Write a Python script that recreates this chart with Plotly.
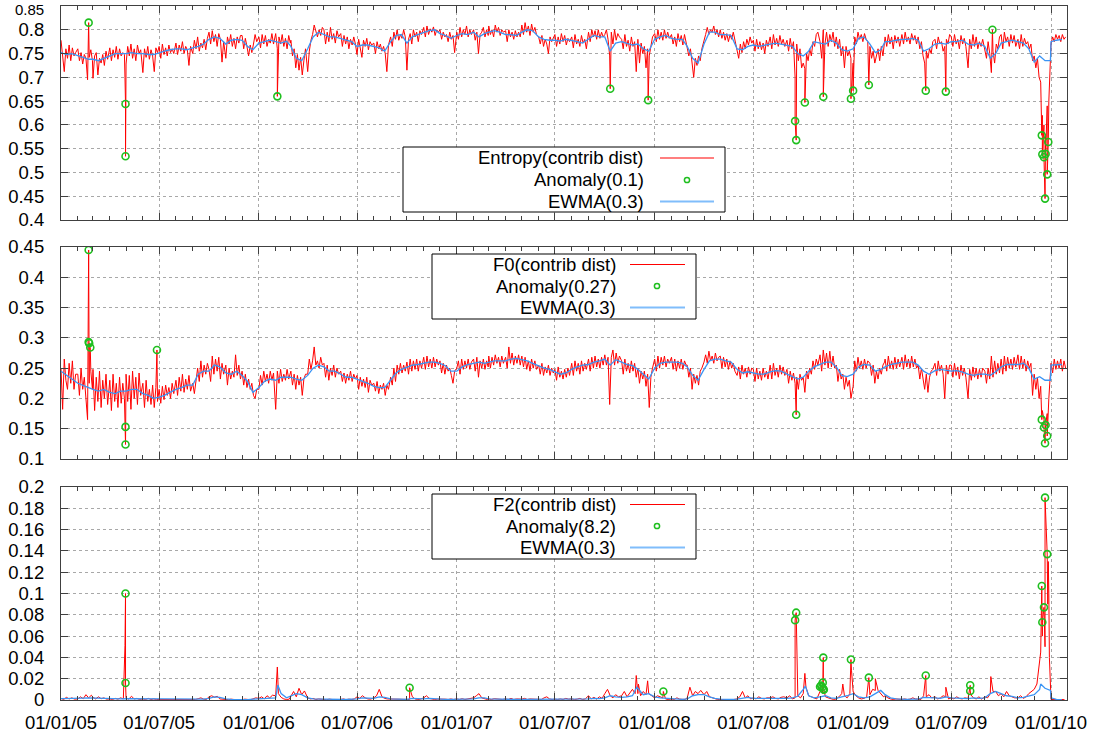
import pandas as pd
import plotly.graph_objects as go

# ---------------- data ----------------
MONTHS = pd.date_range("2005-01-01", "2010-01-01", freq="MS")   # 61 months
RED_OFFS10 = [0, 3, 6, 9, 12, 15, 18, 21, 24, 27]   # day offsets of raw samples (Entropy, F0)
RED_OFFS6 = [0, 5, 10, 15, 20, 25]                  # day offsets of raw samples (F2)
BLUE_OFFS = [0, 10, 20]                             # day offsets of EWMA samples

# Entropy(contrib dist), thousandths, one row per month
ent_red = [
    [778, 745, 712, 760, 740, 768, 735, 762, 745, 752],
    [760, 735, 752, 728, 748, 740, 695, 742, 758, 735],
    [698, 745, 752, 705, 740, 730, 748, 725, 755, 738],
    [762, 735, 758, 742, 765, 738, 760, 745, 752, 748],
    [728, 765, 745, 770, 740, 760, 735, 768, 750, 758],
    [710, 760, 742, 765, 738, 758, 745, 712, 762, 752],
    [765, 740, 770, 748, 762, 745, 768, 752, 760, 750],
    [772, 748, 768, 755, 775, 750, 765, 758, 725, 765],
    [750, 778, 760, 785, 755, 772, 762, 780, 758, 782],
    [795, 770, 798, 775, 790, 765, 792, 780, 732, 775],
    [740, 785, 770, 790, 765, 782, 760, 785, 772, 788],
    [788, 760, 782, 765, 745, 768, 752, 770, 790, 775],
    [785, 762, 790, 770, 788, 765, 780, 772, 792, 770],
    [792, 760, 785, 770, 790, 765, 782, 760, 788, 772],
    [778, 745, 760, 720, 748, 715, 742, 705, 735, 760],
    [712, 755, 778, 790, 810, 795, 785, 800, 788, 805],
    [800, 770, 795, 775, 805, 780, 792, 772, 798, 785],
    [792, 765, 788, 770, 785, 760, 780, 768, 785, 770],
    [748, 780, 760, 742, 778, 765, 782, 758, 775, 768],
    [772, 750, 775, 760, 770, 755, 765, 750, 712, 768],
    [785, 765, 795, 780, 800, 778, 790, 782, 800, 785],
    [715, 780, 792, 770, 800, 785, 795, 775, 798, 790],
    [805, 785, 808, 790, 802, 795, 806, 788, 800, 795],
    [800, 780, 795, 785, 790, 775, 795, 780, 788, 752],
    [795, 780, 805, 785, 800, 790, 808, 785, 800, 790],
    [800, 778, 795, 750, 790, 795, 805, 785, 800, 788],
    [808, 790, 800, 785, 810, 795, 805, 788, 800, 795],
    [798, 775, 800, 785, 795, 780, 798, 785, 795, 785],
    [810, 790, 815, 795, 808, 788, 812, 795, 805, 790],
    [785, 770, 788, 765, 780, 770, 750, 785, 775, 782],
    [790, 765, 785, 770, 792, 775, 788, 768, 782, 775],
    [785, 762, 790, 770, 780, 765, 788, 772, 780, 760],
    [795, 775, 800, 785, 798, 780, 800, 782, 795, 785],
    [790, 800, 780, 745, 795, 770, 800, 778, 792, 785],
    [780, 760, 790, 765, 778, 755, 785, 765, 775, 712],
    [780, 730, 772, 750, 765, 720, 760, 745, 770, 785],
    [792, 775, 800, 780, 795, 778, 800, 782, 795, 782],
    [790, 770, 785, 765, 792, 775, 788, 768, 790, 775],
    [765, 745, 760, 735, 700, 740, 725, 745, 735, 760],
    [775, 790, 805, 790, 800, 795, 808, 790, 800, 785],
    [800, 782, 795, 778, 792, 775, 790, 780, 795, 780],
    [760, 740, 770, 752, 775, 760, 780, 768, 785, 772],
    [778, 755, 780, 760, 775, 758, 772, 750, 778, 765],
    [785, 760, 790, 768, 782, 765, 788, 770, 780, 765],
    [778, 755, 782, 760, 775, 700, 770, 735, 760, 720],
    [730, 718, 750, 735, 760, 745, 775, 765, 790, 795],
    [775, 740, 800, 770, 795, 765, 790, 775, 795, 765],
    [785, 760, 780, 745, 765, 720, 765, 745, 755, 740],
    [730, 785, 770, 795, 780, 790, 775, 792, 780, 775],
    [765, 740, 755, 730, 745, 760, 735, 765, 745, 780],
    [785, 765, 790, 770, 785, 760, 788, 772, 785, 765],
    [790, 770, 795, 775, 785, 770, 792, 778, 788, 770],
    [785, 760, 775, 745, 730, 755, 740, 760, 750, 775],
    [780, 760, 785, 770, 775, 755, 765, 780, 770, 790],
    [785, 765, 790, 770, 780, 760, 788, 770, 782, 765],
    [720, 780, 760, 790, 765, 785, 760, 775, 765, 780],
    [760, 740, 775, 750, 710, 755, 730, 770, 760, 785],
    [790, 760, 795, 775, 785, 765, 790, 772, 788, 765],
    [780, 760, 790, 765, 782, 770, 775, 760, 770, 735],
    [745, 720, 740, 700, 690, 620, 600, 580, 640, 650],
    [770, 785, 775, 790, 780, 788, 775, 790, 780, 785],
]
ent_blue = [
    [752, 748, 750], [745, 742, 738], [738, 735, 740], [745, 750, 750], [750, 752, 750], [750, 748, 748],
    [752, 755, 758], [760, 760, 758], [762, 765, 770], [780, 785, 782], [770, 778, 780], [778, 765, 758],
    [772, 775, 778], [775, 772, 776], [765, 740, 735], [760, 785, 795], [790, 785, 785], [782, 778, 775],
    [765, 768, 768], [765, 762, 755], [775, 788, 790], [772, 785, 790], [795, 798, 800], [792, 788, 782],
    [788, 792, 790], [795, 785, 792], [795, 798, 795], [790, 790, 788], [795, 800, 798], [785, 780, 778],
    [778, 776, 780], [778, 775, 772], [780, 788, 785], [785, 755, 772], [775, 772, 768], [770, 760, 755],
    [780, 785, 788], [782, 780, 780], [765, 740, 730], [770, 795, 795], [790, 790, 788], [760, 758, 765],
    [768, 765, 768], [770, 772, 770], [768, 765, 750], [745, 755, 775], [772, 770, 778], [772, 758, 755],
    [760, 782, 785], [770, 752, 758], [775, 775, 778], [780, 780, 782], [778, 755, 760], [770, 772, 770],
    [775, 775, 778], [770, 768, 772], [765, 740, 750], [772, 775, 778], [775, 772, 760], [732, 745, 735],
    [775, 778, 780],
]
ent_blue_extra = [("2009-12-31", 0.735)]
ent_anom = [
    ("2005-02-21", 0.815), ("2005-04-30", 0.644), ("2005-04-30", 0.534), ("2006-02-04", 0.660),
    ("2007-10-11", 0.676), ("2007-12-20", 0.652), ("2008-09-16", 0.608), ("2008-09-18", 0.568),
    ("2008-10-04", 0.647), ("2008-11-07", 0.659), ("2008-12-28", 0.655), ("2009-01-01", 0.672),
    ("2009-01-30", 0.684), ("2009-05-15", 0.672), ("2009-06-21", 0.670), ("2009-09-15", 0.800),
    ("2009-12-15", 0.578), ("2009-12-16", 0.538), ("2009-12-19", 0.532), ("2009-12-21", 0.445),
    ("2009-12-22", 0.539), ("2009-12-25", 0.496), ("2009-12-27", 0.564),
]
ent_red_extra = [("2005-04-29", 0.700)]

# F0(contrib dist), thousandths
f0_red = [
    [250, 182, 265, 230, 215, 258, 225, 262, 215, 240],
    [240, 205, 250, 215, 235, 200, 165, 225, 245, 215],
    [248, 180, 235, 195, 245, 185, 230, 200, 240, 190],
    [230, 180, 240, 195, 225, 185, 235, 192, 225, 200],
    [240, 195, 238, 182, 245, 200, 235, 190, 242, 205],
    [225, 185, 230, 195, 215, 190, 222, 185, 218, 195],
    [215, 192, 220, 198, 222, 205, 218, 200, 225, 208],
    [230, 205, 235, 212, 240, 210, 232, 215, 238, 212],
    [225, 208, 232, 250, 228, 262, 235, 255, 240, 258],
    [248, 228, 270, 240, 265, 245, 268, 232, 258, 240],
    [255, 222, 250, 232, 245, 235, 272, 238, 255, 232],
    [245, 222, 240, 218, 232, 215, 225, 205, 200, 215],
    [215, 238, 222, 245, 228, 240, 225, 245, 230, 242],
    [182, 245, 225, 248, 228, 240, 230, 248, 232, 242],
    [245, 222, 240, 215, 238, 222, 235, 205, 232, 240],
    [240, 265, 248, 262, 285, 255, 262, 250, 268, 255],
    [258, 235, 255, 230, 250, 238, 255, 235, 250, 240],
    [245, 228, 242, 225, 240, 230, 245, 228, 240, 232],
    [238, 215, 235, 220, 232, 218, 235, 210, 230, 222],
    [225, 212, 228, 208, 222, 215, 225, 205, 222, 215],
    [235, 222, 250, 228, 255, 240, 258, 242, 255, 245],
    [260, 240, 265, 245, 262, 248, 265, 245, 262, 250],
    [268, 248, 270, 252, 265, 250, 268, 252, 265, 255],
    [262, 242, 258, 240, 255, 245, 250, 238, 225, 245],
    [250, 262, 240, 265, 248, 262, 250, 265, 248, 260],
    [265, 245, 268, 235, 262, 250, 265, 248, 262, 252],
    [270, 250, 268, 255, 272, 258, 268, 252, 270, 258],
    [268, 250, 285, 258, 275, 255, 270, 258, 272, 255],
    [270, 252, 268, 248, 262, 245, 265, 250, 262, 248],
    [255, 240, 258, 238, 252, 242, 255, 238, 250, 242],
    [248, 230, 252, 235, 245, 232, 248, 235, 250, 238],
    [258, 238, 262, 245, 258, 240, 262, 245, 258, 248],
    [265, 245, 268, 250, 270, 252, 265, 250, 268, 255],
    [272, 255, 268, 190, 268, 280, 255, 275, 258, 270],
    [262, 240, 265, 245, 258, 242, 262, 245, 258, 235],
    [250, 225, 245, 232, 245, 220, 240, 185, 235, 250],
    [265, 245, 270, 250, 268, 255, 270, 252, 265, 258],
    [268, 248, 265, 245, 262, 250, 265, 248, 262, 255],
    [255, 235, 250, 215, 240, 225, 238, 222, 245, 250],
    [260, 272, 258, 278, 262, 270, 258, 275, 262, 268],
    [270, 250, 268, 252, 265, 248, 262, 250, 258, 245],
    [238, 252, 232, 255, 240, 250, 235, 252, 240, 250],
    [248, 228, 250, 232, 245, 230, 250, 235, 245, 232],
    [255, 232, 258, 238, 250, 235, 255, 240, 252, 238],
    [248, 225, 245, 230, 242, 225, 235, 215, 240, 230],
    [235, 210, 245, 232, 250, 240, 262, 248, 265, 255],
    [272, 245, 280, 255, 275, 250, 278, 252, 270, 250],
    [255, 228, 248, 232, 240, 215, 235, 220, 230, 200],
    [220, 262, 245, 268, 250, 262, 248, 265, 250, 262],
    [258, 238, 255, 225, 245, 232, 250, 240, 255, 260],
    [265, 245, 270, 250, 262, 248, 268, 250, 265, 252],
    [268, 248, 272, 252, 265, 250, 270, 252, 265, 250],
    [255, 232, 250, 230, 215, 240, 210, 235, 245, 248],
    [258, 238, 262, 245, 255, 240, 200, 255, 240, 255],
    [255, 235, 258, 238, 252, 232, 255, 238, 250, 235],
    [200, 248, 230, 252, 235, 250, 232, 248, 235, 250],
    [245, 225, 250, 232, 270, 235, 262, 240, 258, 242],
    [265, 240, 270, 245, 268, 250, 265, 248, 268, 252],
    [272, 248, 270, 250, 265, 245, 262, 250, 258, 205],
    [240, 215, 235, 200, 220, 180, 165, 150, 175, 200],
    [258, 242, 265, 248, 262, 250, 265, 245, 262, 250],
]
f0_blue = [
    [245, 238, 232], [225, 222, 218], [215, 212, 215], [210, 208, 212], [212, 215, 215], [208, 205, 200],
    [202, 205, 210], [215, 218, 222], [222, 240, 245], [245, 255, 252], [242, 240, 245], [238, 228, 210],
    [218, 228, 232], [230, 235, 235], [235, 232, 230], [238, 250, 255], [252, 245, 245], [240, 235, 235],
    [232, 228, 225], [220, 218, 218], [230, 242, 248], [252, 255, 256], [258, 260, 260], [258, 254, 245],
    [245, 252, 256], [258, 260, 258], [260, 262, 262], [262, 265, 266], [264, 262, 258], [254, 250, 248],
    [244, 240, 242], [248, 252, 255], [256, 260, 262], [265, 255, 264], [260, 256, 254], [248, 240, 232],
    [250, 258, 260], [260, 260, 258], [252, 238, 230], [248, 262, 265], [265, 262, 260], [248, 242, 244],
    [242, 240, 240], [244, 246, 245], [240, 236, 232], [235, 245, 252], [256, 260, 260], [252, 238, 236],
    [240, 252, 256], [255, 245, 248], [252, 256, 258], [260, 260, 260], [255, 245, 240], [246, 248, 246],
    [245, 246, 244], [240, 238, 240], [240, 238, 244], [252, 256, 256], [256, 258, 250], [232, 236, 230],
    [255, 256, 256],
]
f0_blue_extra = [("2009-12-31", 0.230)]
f0_anom = [
    ("2005-02-21", 0.445), ("2005-02-21", 0.293), ("2005-02-22", 0.291), ("2005-02-24", 0.284),
    ("2005-04-30", 0.153), ("2005-04-30", 0.124), ("2005-06-27", 0.280), ("2008-09-18", 0.173),
    ("2009-12-15", 0.165), ("2009-12-19", 0.152), ("2009-12-21", 0.126), ("2009-12-22", 0.156),
    ("2009-12-25", 0.138),
]
f0_red_extra = []

# F2(contrib dist), units of 1e-4
f2_red = [
    [15, 5, 25, 10, 20, 8], [10, 30, 12, 50, 20, 45], [25, 10, 30, 12, 20, 8], [10, 5, 15, 8, 20, 10],
    [20, 8, 35, 10, 15, 5], [10, 5, 15, 5, 10, 5], [5, 10, 3, 8, 5, 10], [8, 3, 10, 5, 8, 3],
    [10, 5, 12, 20, 8, 5], [30, 40, 25, 35, 10, 5], [5, 3, 8, 5, 3, 5], [3, 8, 5, 3, 10, 20],
    [15, 30, 10, 40, 20, 45], [40, 60, 25, 10, 5, 8], [40, 80, 30, 110, 50, 85], [20, 10, 15, 5, 10, 5],
    [5, 3, 8, 5, 3, 8], [5, 10, 3, 8, 5, 10], [30, 15, 40, 20, 10, 8], [20, 40, 100, 30, 15, 10],
    [10, 5, 8, 5, 10, 5], [10, 5, 30, 10, 5, 8], [20, 40, 15, 10, 5, 8], [10, 5, 8, 5, 10, 5],
    [10, 5, 12, 5, 8, 10], [20, 40, 60, 20, 10, 5], [10, 5, 12, 8, 10, 5], [10, 5, 15, 5, 10, 8],
    [8, 15, 5, 10, 8, 12], [10, 5, 20, 30, 10, 5], [8, 5, 10, 5, 15, 8], [10, 5, 8, 15, 5, 10],
    [40, 10, 25, 8, 30, 15], [60, 100, 40, 20, 50, 30], [40, 80, 30, 60, 100, 60], [60, 40, 80, 50, 60, 40],
    [20, 40, 30, 20, 10, 5], [10, 5, 20, 8, 10, 5], [20, 120, 40, 80, 60, 90], [50, 80, 30, 20, 10, 5],
    [5, 3, 8, 5, 3, 5], [10, 30, 80, 20, 40, 10], [20, 10, 30, 15, 10, 20], [20, 30, 15, 10, 25, 30],
    [20, 40, 10, 20, 40, 20], [60, 120, 40, 30, 20, 10], [80, 60, 30, 20, 10, 5], [10, 30, 60, 40, 20, 60],
    [80, 40, 20, 10, 15, 30], [50, 100, 90, 90, 60, 30], [40, 20, 10, 5, 10, 5], [5, 10, 5, 8, 20, 10],
    [10, 5, 40, 30, 50, 20], [30, 10, 20, 40, 30, 10], [20, 10, 30, 15, 10, 20], [15, 50, 20, 10, 30, 8],
    [30, 20, 60, 80, 80, 40], [60, 30, 80, 40, 30, 20], [20, 40, 15, 30, 60, 80], [100, 150, 400, 600, 500, 900],
    [5, 3, 5, 3, 5, 3],
]
f2_blue = [
    [12, 12, 12], [15, 18, 20], [18, 16, 14], [12, 10, 10], [12, 12, 10], [8, 8, 6],
    [5, 5, 5], [5, 5, 5], [6, 8, 8], [15, 30, 25], [10, 6, 4], [4, 4, 8],
    [10, 15, 20], [20, 60, 20], [40, 60, 50], [20, 10, 8], [5, 5, 5], [5, 5, 5],
    [10, 20, 15], [15, 30, 25], [10, 8, 6], [6, 15, 10], [10, 15, 10], [8, 6, 6],
    [6, 6, 6], [10, 20, 20], [10, 8, 6], [6, 6, 6], [6, 6, 8], [8, 10, 10],
    [6, 6, 8], [6, 8, 6], [10, 15, 12], [20, 40, 30], [25, 30, 40], [110, 50, 60],
    [30, 20, 15], [10, 8, 6], [10, 40, 50], [50, 30, 15], [8, 5, 5], [8, 20, 25],
    [15, 15, 12], [12, 15, 15], [15, 20, 35], [100, 40, 20], [30, 40, 20], [15, 30, 40],
    [60, 30, 20], [30, 60, 90], [50, 20, 10], [6, 6, 8], [8, 25, 25], [20, 15, 30],
    [20, 15, 15], [12, 20, 15], [20, 60, 80], [60, 40, 35], [20, 25, 40], [50, 100, 110],
    [20, 5, 3],
]
f2_blue_extra = [("2006-02-05", 0.014), ("2007-11-29", 0.012), ("2008-10-05", 0.013),
                 ("2009-12-13", 0.015), ("2009-12-31", 0.009)]
f2_anom = [
    ("2005-04-30", 0.100), ("2005-04-30", 0.016), ("2006-10-06", 0.0115), ("2008-01-17", 0.008),
    ("2008-09-16", 0.075), ("2008-09-18", 0.082), ("2008-11-01", 0.0125), ("2008-11-03", 0.0135),
    ("2008-11-05", 0.012), ("2008-11-06", 0.0163), ("2008-11-07", 0.0398), ("2008-11-07", 0.0103),
    ("2008-11-08", 0.0097), ("2008-12-28", 0.038), ("2009-01-30", 0.021), ("2009-05-15", 0.023),
    ("2009-08-05", 0.0138), ("2009-08-05", 0.0085), ("2009-12-15", 0.107), ("2009-12-16", 0.073),
    ("2009-12-19", 0.087), ("2009-12-21", 0.190), ("2009-12-25", 0.137),
]
f2_red_extra = [
    ("2005-04-29", 0.051), ("2006-02-04", 0.031), ("2007-11-28", 0.023), ("2007-12-02", 0.015),
    ("2007-12-19", 0.018), ("2008-09-19", 0.045), ("2008-10-04", 0.025), ("2008-12-13", 0.015),
    ("2008-12-29", 0.028), ("2009-02-11", 0.020), ("2009-06-21", 0.012), ("2009-09-12", 0.022),
    ("2009-12-13", 0.045), ("2009-12-27", 0.130), ("2009-12-28", 0.100), ("2009-12-29", 0.040),
]

ENT_TICKS = [0.4, 0.45, 0.5, 0.55, 0.6, 0.65, 0.7, 0.75, 0.8]
ENT_TEXT = ["0.4", "0.45", "0.5", "0.55", "0.6", "0.65", "0.7", "0.75", "0.8"]
ENT_TOP = "0.85"   # label of the upper edge of the top panel
F0_TICKS = [0.1, 0.15, 0.2, 0.25, 0.3, 0.35, 0.4, 0.45]
F0_TEXT = ["0.1", "0.15", "0.2", "0.25", "0.3", "0.35", "0.4", "0.45"]
F2_TICKS = [0, 0.02, 0.04, 0.06, 0.08, 0.1, 0.12, 0.14, 0.16, 0.18, 0.2]
F2_TEXT = ["0", "0.02", "0.04", "0.06", "0.08", "0.1", "0.12", "0.14", "0.16", "0.18", "0.2"]

LEGENDS = [
    ("Entropy(contrib dist)", "Anomaly(0.1)", "EWMA(0.3)"),
    ("F0(contrib dist)", "Anomaly(0.27)", "EWMA(0.3)"),
    ("F2(contrib dist)", "Anomaly(8.2)", "EWMA(0.3)"),
]

# ---------------- helpers ----------------
def grid(rows, offs, scale):
    pts = []
    for m, row in zip(MONTHS, rows):
        for off, v in zip(offs, row):
            pts.append((m + pd.Timedelta(days=off), v * scale))
    return pts

def merge(*lists):
    pts = []
    for lst in lists:
        pts.extend((pd.Timestamp(d), v) for d, v in lst)
    pts.sort(key=lambda p: p[0])
    return [p[0] for p in pts], [p[1] for p in pts]

RED = "#ff0000"
BLUE = "#3a94f5"
BLUE_KEY = "#80bdfb"
GREEN = "#1fbf1f"
FONT = "Liberation Sans, Arial, sans-serif"
FS = 18.5

panels = [
    (ent_red, RED_OFFS10, 1e-3, ent_red_extra, ent_anom, ent_blue, 1e-3, ent_blue_extra),
    (f0_red, RED_OFFS10, 1e-3, f0_red_extra, f0_anom, f0_blue, 1e-3, f0_blue_extra),
    (f2_red, RED_OFFS6, 1e-4, f2_red_extra, f2_anom, f2_blue, 1e-4, f2_blue_extra),
]

fig = go.Figure()
for i, (rr, ro, rs, rx, an, bb, bs, bx) in enumerate(panels):
    xa = "x" if i == 0 else f"x{i+1}"
    ya = "y" if i == 0 else f"y{i+1}"
    rx_, ry_ = merge(grid(rr, ro, rs), rx, an)
    bx_, by_ = merge(grid(bb, BLUE_OFFS, bs), bx)
    ax_, ay_ = merge(an)
    fig.add_trace(go.Scatter(x=rx_, y=ry_, mode="lines", line=dict(color=RED, width=1),
                             xaxis=xa, yaxis=ya, showlegend=False, hoverinfo="skip"))
    fig.add_trace(go.Scatter(x=bx_, y=by_, mode="lines", line=dict(color=BLUE, width=1.3),
                             xaxis=xa, yaxis=ya, showlegend=False, hoverinfo="skip"))
    fig.add_trace(go.Scatter(x=ax_, y=ay_, mode="markers",
                             marker=dict(symbol="circle-open", size=7, color=GREEN, line=dict(width=1.6)),
                             xaxis=xa, yaxis=ya, showlegend=False, hoverinfo="skip"))

# ---------------- layout ----------------
L, R, T, B = 61, 1067, 6, 700
PW, PH = R - L, B - T
def px(x): return (x - L) / PW
def py(y): return (B - y) / PH

AX = "#404040"
GRID = "#a8a8a8"
xbase = dict(type="date", range=["2005-01-01", "2010-01-30 12:00"], dtick="M6", tick0="2005-01-01",
             tickformat="%d/%m/%y", ticks="inside", ticklen=7, tickcolor=AX, tickwidth=1,
             showline=True, linecolor=AX, linewidth=1.2, mirror="allticks", automargin=False,
             showgrid=True, gridcolor=GRID, griddash="dot", gridwidth=1, zeroline=False,
             minor=dict(dtick="M1", tick0="2005-01-01", ticks="inside", ticklen=4, tickcolor=AX, showgrid=False),
             tickfont=dict(family=FONT, size=FS, color="black"), ticklabelstandoff=6)
ybase = dict(ticks="inside", ticklen=7, tickcolor=AX, showline=True, linecolor=AX, linewidth=1.2,
             mirror="allticks", showgrid=True, gridcolor=GRID, griddash="dot", gridwidth=1,
             zeroline=False, automargin=False,
             tickfont=dict(family=FONT, size=FS, color="black"), ticklabelstandoff=12)

domains = [(py(220), 1.0), (py(459), py(247)), (0.0, py(487))]
yinfo = [((0.4, 0.85), ENT_TICKS, ENT_TEXT), ((0.1, 0.45), F0_TICKS, F0_TEXT), ((0, 0.2), F2_TICKS, F2_TEXT)]

lay = {}
for i in range(3):
    xk = "xaxis" if i == 0 else f"xaxis{i+1}"
    yk = "yaxis" if i == 0 else f"yaxis{i+1}"
    xd = dict(xbase, anchor="y" if i == 0 else f"y{i+1}", showticklabels=(i == 2))
    if i > 0:
        xd["matches"] = "x"
    lay[xk] = xd
    rng, tv, tt = yinfo[i]
    lay[yk] = dict(ybase, domain=list(domains[i]), range=list(rng), tickvals=tv, ticktext=tt,
                   anchor="x" if i == 0 else f"x{i+1}")

fig.update_layout(width=1094, height=736, margin=dict(l=L, r=1094 - R, t=T, b=736 - B, autoexpand=False),
                  paper_bgcolor="white", plot_bgcolor="white", showlegend=False,
                  font=dict(family=FONT, size=FS, color="black"), **lay)

# gnuplot-style keys (text right-aligned, sample on the right)
KEYS = [
    dict(box=(403, 725, 147, 212), tx=646, rows=(158, 180, 201.5), sx=(660, 714), mx=687),
    dict(box=(432, 696, 254, 319), tx=618, rows=(264.5, 286, 307.5), sx=(630, 685), mx=657),
    dict(box=(432, 696, 494, 559), tx=618, rows=(504.5, 526, 547.5), sx=(630, 685), mx=657),
]
shapes, annots = [], []
for k, labels in zip(KEYS, LEGENDS):
    x0, x1, y0, y1 = k["box"]
    shapes.append(dict(type="rect", xref="paper", yref="paper", x0=px(x0), x1=px(x1), y0=py(y1), y1=py(y0),
                       line=dict(color="black", width=1), fillcolor="white", layer="above"))
    for lab, ry in zip(labels, k["rows"]):
        annots.append(dict(text=lab, xref="paper", yref="paper", x=px(k["tx"]), y=py(ry),
                           xanchor="right", yanchor="middle", showarrow=False,
                           font=dict(family=FONT, size=FS, color="black")))
    r0, r1, r2 = k["rows"]
    shapes.append(dict(type="line", xref="paper", yref="paper", x0=px(k["sx"][0]), x1=px(k["sx"][1]),
                       y0=py(r0), y1=py(r0), line=dict(color=RED, width=1.2)))
    shapes.append(dict(type="line", xref="paper", yref="paper", x0=px(k["sx"][0]), x1=px(k["sx"][1]),
                       y0=py(r2), y1=py(r2), line=dict(color=BLUE_KEY, width=2)))
    rr = 2.6
    shapes.append(dict(type="circle", xref="paper", yref="paper", x0=px(k["mx"] - rr), x1=px(k["mx"] + rr),
                       y0=py(r1 + rr), y1=py(r1 - rr), line=dict(color=GREEN, width=1.5)))

# label of the top edge of the upper panel, kept fully inside the page and clear of "0.8"
annots.append(dict(text=ENT_TOP, xref="paper", yref="paper", x=px(L - 16), y=py(0),
                   xanchor="right", yanchor="top", showarrow=False, borderpad=0,
                   font=dict(family=FONT, size=15, color="black")))
fig.update_layout(shapes=shapes, annotations=annots)

fig.write_html("out.html")
